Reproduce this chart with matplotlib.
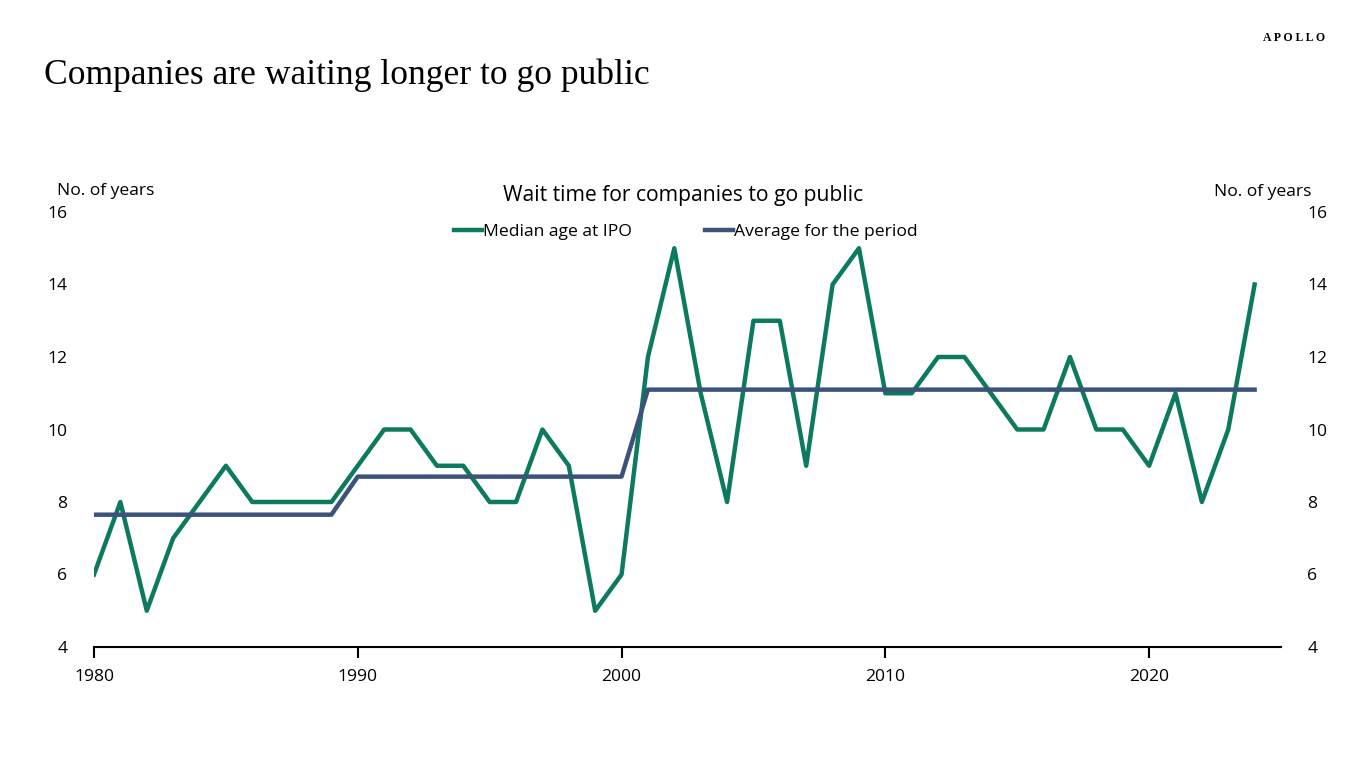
import matplotlib.pyplot as plt
import matplotlib
import numpy as np

matplotlib.rcParams['font.family'] = 'Open Sans'

# ---------------------------------------------------------------------------
# Data
# ---------------------------------------------------------------------------
years = list(range(1980, 2025))
median_age = [6, 8, 5, 7, 8, 9, 8, 8, 8, 8,
              9, 10, 10, 9, 9, 8, 8, 10, 9, 5,
              6, 12, 15, 11, 8, 13, 13, 9, 14, 15,
              11, 11, 12, 12, 11, 10, 10, 12, 10, 10,
              9, 11, 8, 10, 14]
period_avg = [7.65] * 10 + [8.7] * 11 + [11.1] * 24

green = '#0B7A5E'
navy = '#3B5378'
fs = 12.6

fig = plt.figure(figsize=(13.66, 7.68), dpi=100)
ax = fig.add_axes([94 / 1366, 1 - 647 / 768, (1281 - 94) / 1366, (647 - 212) / 768])

ax.plot(years, median_age, color=green, lw=3.2, label='Median age at IPO')
ax.plot(years, period_avg, color=navy, lw=3.2, label='Average for the period')

ax.set_xlim(1980, 2025)
ax.set_ylim(4, 16)
ax.set_yticks(range(4, 17, 2))
ax.set_xticks([1980, 1990, 2000, 2010, 2020])
for s in ['top', 'right', 'left']:
    ax.spines[s].set_visible(False)
ax.spines['bottom'].set_linewidth(1.5)
ax.tick_params(axis='x', length=8, width=1.5, labelsize=fs, pad=8)
ax.tick_params(axis='y', length=0, labelsize=fs, pad=19)

ax2 = ax.twinx()
ax2.set_ylim(4, 16)
ax2.set_yticks(range(4, 17, 2))
for s in ['top', 'right', 'left', 'bottom']:
    ax2.spines[s].set_visible(False)
ax2.tick_params(axis='y', length=0, labelsize=fs, pad=19)

leg = ax.legend(loc='center', ncol=2, frameon=False, fontsize=fs, handlelength=1.6,
                handletextpad=0.05, columnspacing=4.2)
leg.set_bbox_to_anchor((686 / 1366, 1 - 232 / 768), transform=fig.transFigure)

fig.text(57 / 1366, 1 - 191 / 768, 'No. of years', fontsize=fs, ha='left', va='center')
fig.text(1311 / 1366, 1 - 192 / 768, 'No. of years', fontsize=fs, ha='right', va='center')
fig.text(683 / 1366, 1 - 195 / 768, 'Wait time for companies to go public', fontsize=15.2,
         ha='center', va='center')

fig.text(44 / 1366, 1 - 75 / 768, 'Companies are waiting longer to go public',
         fontsize=25.6, family='Liberation Serif', ha='left', va='center')
fig.text(1325 / 1366, 1 - 38 / 768, 'A P O L L O', fontsize=8.5, family='Liberation Serif',
         ha='right', va='center', fontweight='bold')

plt.savefig('out.png', dpi=100, facecolor='white')
plt.close()
